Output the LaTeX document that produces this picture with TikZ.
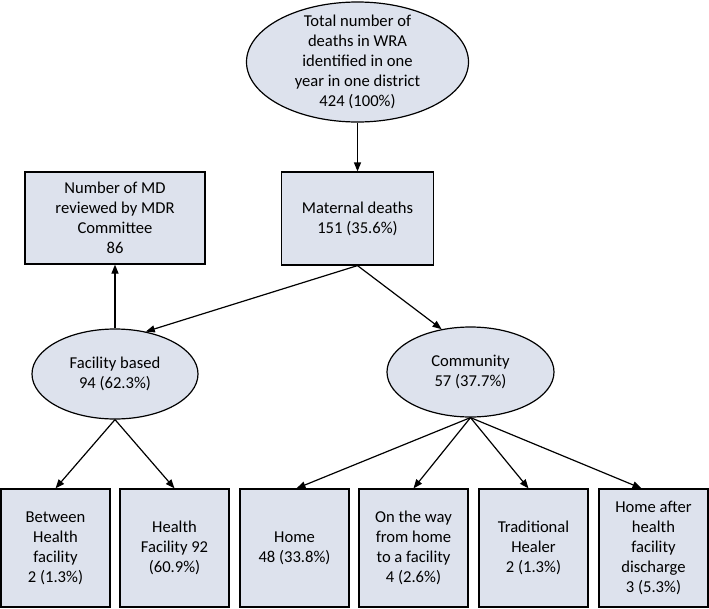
\documentclass[tikz,border=0pt]{standalone}
\usepackage{fontspec}
\setmainfont{Carlito}
\usetikzlibrary{shapes.geometric,arrows.meta}
\definecolor{boxfill}{RGB}{221,226,237}
\begin{document}
\begin{tikzpicture}[x=1pt,y=-1pt,
  every node/.style={font=\fontsize{16.6pt}{20pt}\selectfont, align=center},
  shapebase/.style={draw=black, line width=1.2pt, fill=boxfill, inner sep=0pt},
  rectbox/.style={shapebase, rectangle},
  ovalbox/.style={shapebase, ellipse},
  arr/.style={-{Triangle[length=9pt,width=7pt]}, line width=1.2pt}]
\useasboundingbox (0,0) rectangle (709,608);
% top ellipse
\node[ovalbox, minimum width=222pt, minimum height=120pt] (top) at (357.5,62) {};
\node (toptext) at (top.center) {Total number of\\deaths in WRA\\identified in one\\year in one district\\424 (100\%)};
% second row
\node[rectbox, minimum width=152pt, minimum height=93pt] (mat) at (357.5,218.5) {Maternal deaths\\151 (35.6\%)};
\node[rectbox, minimum width=180pt, minimum height=92pt] (md) at (115,218) {Number of MD\\reviewed by MDR\\Committee\\86};
% ellipses
\node[ovalbox, minimum width=166pt, minimum height=90pt] (fac) at (115,374) {Facility based\\94 (62.3\%)};
\node[ovalbox, minimum width=167pt, minimum height=90pt] (com) at (470.5,372) {Community\\57 (37.7\%)};
% bottom boxes
\node[rectbox, minimum width=109pt, minimum height=118pt] (b1) at (55.5,548) {Between\\Health\\facility\\2 (1.3\%)};
\node[rectbox, minimum width=109pt, minimum height=118pt] (b2) at (174.5,548) {Health\\Facility 92\\(60.9\%)};
\node[rectbox, minimum width=109pt, minimum height=118pt] (b3) at (294.5,548) {Home\\48 (33.8\%)};
\node[rectbox, minimum width=109pt, minimum height=118pt] (b4) at (413.5,548) {On the way\\from home\\to a facility\\4 (2.6\%)};
\node[rectbox, minimum width=109pt, minimum height=118pt] (b5) at (533.5,548) {Traditional\\Healer\\2 (1.3\%)};
\node[rectbox, minimum width=109pt, minimum height=118pt] (b6) at (653.5,548) {Home after\\health\\facility\\discharge\\3 (5.3\%)};
% connectors
\draw[arr] (top.south) -- (mat.north);
\draw[arr] (mat.south) -- (fac.54);
\draw[arr] (mat.south) -- (com.124);
\draw[arr] (fac.north) -- (md.south);
\draw[arr] (fac.south) -- (b1.north);
\draw[arr] (fac.south) -- (b2.north);
\draw[arr] (com.south) -- ([xshift=2pt]b3.north);
\draw[arr] (com.south) -- (b4.north);
\draw[arr] (com.south) -- ([xshift=-5pt]b5.north);
\draw[arr] (com.south) -- ([xshift=-12pt]b6.north);
\end{tikzpicture}
\end{document}
